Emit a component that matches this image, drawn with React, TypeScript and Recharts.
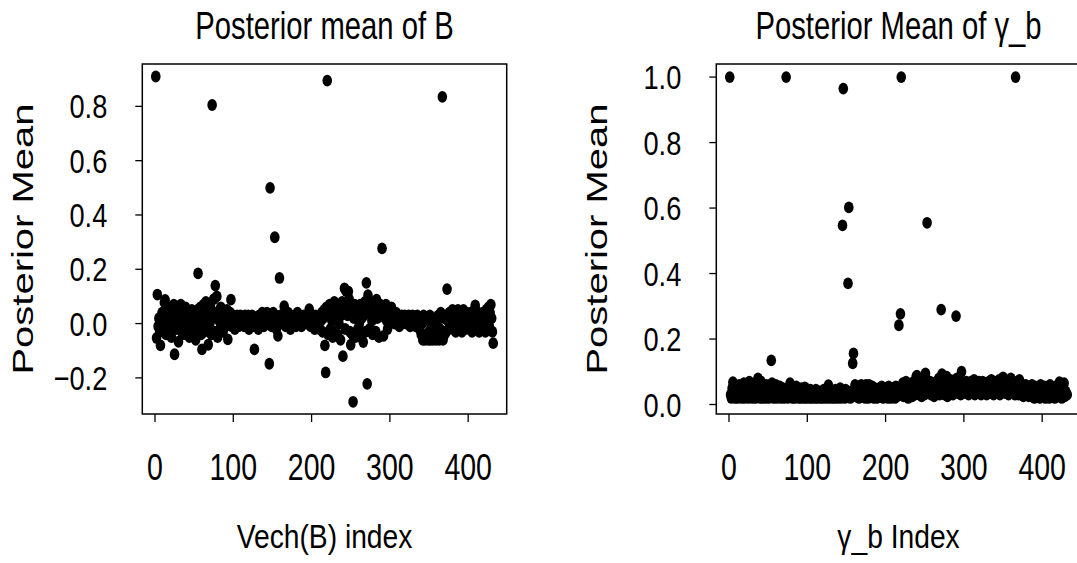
import { ScatterChart, Scatter, XAxis, YAxis, ReferenceArea } from "recharts";

const FONT = '"Liberation Sans", Arial, Helvetica, sans-serif';

const xTicks = [0, 100, 200, 300, 400];
const xDomain: [number, number] = [-16.2, 449.2];
const bTicks = [-0.2, 0, 0.2, 0.4, 0.6, 0.8];
const bDomain: [number, number] = [-0.333, 0.956];
const gammaTicks = [0, 0.2, 0.4, 0.6, 0.8, 1.0];
const gammaDomain: [number, number] = [-0.029, 1.04];

// posterior mean of vech(B), index 1..432 (16 per row)
const vechBValues = [
  0.91, -0.053, 0.107, -0.01, 0.02, -0.03, -0.08, 0.01, 0.04, -0.02, 0.03, 0.078, 0.087, -0.04, 0.05, 0.0,
  0.02, -0.03, 0.06, 0.01, -0.05, 0.03, 0.0, 0.07, -0.113, 0.02, -0.02, 0.05, 0.01, -0.067, 0.04, -0.01,
  0.07, -0.03, 0.02, 0.05, -0.04, 0.0, 0.06, 0.03, -0.02, 0.04, 0.01, -0.05, 0.03, -0.01, 0.05, 0.02,
  -0.03, 0.04, 0.0, -0.06, 0.02, 0.05, 0.185, -0.02, 0.03, 0.06, -0.04, -0.095, 0.01, 0.07, -0.03, 0.02,
  0.08, -0.02, 0.05, -0.078, 0.03, 0.0, 0.06, -0.04, 0.805, 0.02, 0.09, -0.03, 0.14, 0.04, 0.1, -0.05,
  0.03, 0.01, -0.02, 0.06, 0.0, 0.05, -0.03, 0.04, 0.02, -0.01, 0.03, 0.05, -0.058, 0.02, 0.0, 0.04,
  0.088, -0.01, 0.02, 0.03, 0.01, -0.02, 0.02, 0.0, 0.03, 0.01, -0.01, 0.02, 0.03, 0.0, 0.02, 0.01,
  0.02, -0.01, 0.03, 0.01, 0.0, 0.02, 0.03, -0.02, 0.01, 0.02, 0.0, 0.03, 0.01, -0.01, -0.095, 0.02,
  0.01, 0.0, 0.02, -0.02, 0.03, 0.01, 0.02, 0.0, 0.04, 0.01, -0.01, 0.03, 0.02, 0.0, 0.04, 0.01,
  0.02, -0.148, 0.5, 0.03, -0.01, 0.02, 0.04, 0.0, 0.318, 0.03, -0.02, 0.02, -0.045, 0.01, 0.168, 0.03,
  0.02, 0.0, 0.01, 0.03, 0.064, 0.01, -0.01, 0.02, 0.0, 0.04, 0.01, 0.02, -0.02, 0.03, 0.01, 0.0,
  0.02, 0.03, 0.01, -0.01, 0.02, 0.04, 0.0, 0.01, 0.03, 0.02, -0.01, 0.01, 0.02, 0.03, 0.0, 0.01,
  0.02, 0.0, 0.03, 0.01, 0.053, 0.02, -0.01, 0.01, 0.0, 0.02, 0.01, -0.02, 0.03, 0.0, 0.01, 0.02,
  0.0, -0.02, 0.03, 0.01, 0.04, -0.03, 0.02, 0.05, -0.08, -0.18, 0.06, 0.895, -0.04, 0.03, 0.07, -0.02,
  0.05, 0.01, -0.05, 0.04, 0.08, -0.03, 0.06, 0.02, -0.04, 0.07, 0.0, 0.05, -0.06, 0.03, 0.08, -0.12,
  0.04, 0.13, -0.02, 0.12, 0.06, 0.03, 0.118, 0.09, -0.03, -0.078, 0.05, -0.04, -0.288, 0.02, 0.07, -0.05,
  0.03, 0.06, -0.02, 0.04, 0.0, 0.07, -0.05, 0.02, 0.05, -0.068, 0.03, 0.08, -0.03, 0.15, -0.222, 0.105,
  0.06, -0.02, 0.04, 0.08, 0.01, -0.04, 0.07, 0.03, 0.05, -0.03, 0.088, 0.02, 0.06, -0.05, 0.04, 0.07,
  0.03, 0.277, 0.06, -0.045, 0.05, 0.02, 0.07, 0.01, -0.02, 0.05, 0.04, 0.0, 0.03, 0.06, 0.02, 0.01,
  0.03, 0.0, 0.02, 0.04, 0.01, 0.02, 0.03, -0.01, 0.02, 0.01, 0.03, 0.0, 0.02, 0.01, 0.03, 0.02,
  0.0, 0.02, 0.01, 0.03, 0.02, -0.01, 0.02, 0.0, 0.03, 0.01, 0.02, 0.0, -0.01, 0.02, 0.03, 0.0,
  0.01, -0.02, 0.02, -0.04, 0.0, -0.06, 0.03, -0.05, -0.06, 0.01, -0.04, 0.02, -0.06, -0.03, 0.03, -0.06,
  -0.02, 0.01, -0.06, -0.04, 0.02, -0.05, -0.06, 0.0, -0.03, 0.03, -0.06, -0.02, 0.04, -0.05, 0.835, -0.06,
  0.02, -0.04, 0.03, -0.03, 0.127, 0.01, -0.02, 0.04, -0.01, 0.03, 0.0, 0.05, -0.02, 0.02, 0.04, -0.03,
  0.03, 0.0, 0.05, -0.02, 0.02, 0.04, 0.01, -0.03, 0.03, 0.05, 0.0, 0.02, -0.02, 0.04, 0.01, 0.03,
  -0.01, 0.02, 0.04, 0.0, -0.03, 0.03, 0.01, 0.05, 0.067, -0.02, 0.02, 0.0, 0.04, -0.03, 0.01, 0.03,
  0.02, -0.02, 0.04, 0.0, 0.03, -0.03, 0.05, 0.01, 0.02, 0.06, -0.01, 0.04, 0.07, 0.02, -0.03, -0.072,
];

// posterior mean of gamma_b, index 1..432 (16 per row)
const gammaBValues = [
  1.0, 0.03, 0.02, 0.05, 0.068, 0.025, 0.04, 0.02, 0.055, 0.03, 0.02, 0.045, 0.06, 0.025, 0.035, 0.02,
  0.05, 0.03, 0.065, 0.02, 0.04, 0.025, 0.06, 0.03, 0.02, 0.07, 0.035, 0.025, 0.05, 0.02, 0.06, 0.03,
  0.04, 0.02, 0.065, 0.03, 0.08, 0.025, 0.05, 0.02, 0.07, 0.035, 0.02, 0.055, 0.03, 0.045, 0.02, 0.06,
  0.03, 0.05, 0.02, 0.04, 0.025, 0.135, 0.065, 0.03, 0.02, 0.05, 0.035, 0.06, 0.02, 0.045, 0.03, 0.025,
  0.055, 0.02, 0.04, 0.03, 0.05, 0.02, 0.035, 0.025, 1.0, 0.045, 0.02, 0.03, 0.05, 0.065, 0.025, 0.04,
  0.02, 0.035, 0.045, 0.02, 0.03, 0.055, 0.025, 0.04, 0.02, 0.035, 0.03, 0.02, 0.05, 0.025, 0.04, 0.02,
  0.052, 0.03, 0.02, 0.04, 0.025, 0.035, 0.02, 0.045, 0.03, 0.02, 0.04, 0.025, 0.03, 0.02, 0.045, 0.035,
  0.02, 0.03, 0.04, 0.025, 0.02, 0.035, 0.03, 0.02, 0.045, 0.025, 0.03, 0.02, 0.04, 0.035, 0.059, 0.02,
  0.03, 0.025, 0.04, 0.02, 0.035, 0.03, 0.02, 0.045, 0.025, 0.035, 0.02, 0.04, 0.03, 0.05, 0.02, 0.035,
  0.547, 0.965, 0.03, 0.02, 0.045, 0.025, 0.04, 0.37, 0.602, 0.03, 0.02, 0.04, 0.025, 0.126, 0.156, 0.035,
  0.06, 0.025, 0.04, 0.03, 0.055, 0.02, 0.045, 0.035, 0.06, 0.025, 0.04, 0.03, 0.05, 0.02, 0.06, 0.035,
  0.045, 0.02, 0.06, 0.03, 0.04, 0.025, 0.055, 0.035, 0.02, 0.05, 0.03, 0.045, 0.02, 0.04, 0.03, 0.05,
  0.025, 0.04, 0.055, 0.03, 0.02, 0.045, 0.035, 0.05, 0.025, 0.04, 0.02, 0.055, 0.03, 0.045, 0.02, 0.035,
  0.05, 0.03, 0.04, 0.02, 0.055, 0.035, 0.025, 0.045, 0.242, 0.03, 0.277, 1.0, 0.04, 0.065, 0.025, 0.06,
  0.035, 0.07, 0.03, 0.05, 0.02, 0.06, 0.045, 0.03, 0.065, 0.025, 0.05, 0.04, 0.07, 0.03, 0.085, 0.088,
  0.04, 0.06, 0.03, 0.075, 0.05, 0.025, 0.065, 0.04, 0.08, 0.03, 0.095, 0.05, 0.555, 0.035, 0.06, 0.045,
  0.07, 0.03, 0.055, 0.04, 0.065, 0.025, 0.06, 0.045, 0.07, 0.035, 0.05, 0.08, 0.03, 0.06, 0.29, 0.093,
  0.045, 0.06, 0.03, 0.07, 0.04, 0.085, 0.025, 0.055, 0.065, 0.035, 0.075, 0.045, 0.06, 0.03, 0.07, 0.05,
  0.04, 0.27, 0.08, 0.035, 0.06, 0.045, 0.07, 0.03, 0.1, 0.05, 0.065, 0.035, 0.06, 0.045, 0.07, 0.04,
  0.055, 0.03, 0.065, 0.045, 0.07, 0.035, 0.06, 0.04, 0.075, 0.03, 0.055, 0.045, 0.065, 0.035, 0.07, 0.04,
  0.06, 0.03, 0.05, 0.07, 0.035, 0.055, 0.04, 0.065, 0.03, 0.06, 0.045, 0.07, 0.035, 0.05, 0.075, 0.04,
  0.06, 0.03, 0.07, 0.045, 0.055, 0.035, 0.065, 0.04, 0.075, 0.03, 0.06, 0.05, 0.07, 0.083, 0.04, 0.06,
  0.035, 0.07, 0.045, 0.055, 0.03, 0.065, 0.04, 0.08, 0.035, 0.06, 0.045, 0.07, 0.03, 1.0, 0.05, 0.04,
  0.065, 0.03, 0.075, 0.045, 0.055, 0.035, 0.06, 0.025, 0.05, 0.04, 0.06, 0.03, 0.045, 0.055, 0.025, 0.04,
  0.05, 0.025, 0.06, 0.035, 0.045, 0.02, 0.055, 0.03, 0.04, 0.025, 0.05, 0.035, 0.02, 0.06, 0.03, 0.045,
  0.025, 0.04, 0.055, 0.02, 0.035, 0.05, 0.03, 0.045, 0.02, 0.06, 0.035, 0.025, 0.05, 0.03, 0.04, 0.02,
  0.055, 0.03, 0.045, 0.025, 0.06, 0.068, 0.035, 0.05, 0.02, 0.045, 0.03, 0.065, 0.025, 0.04, 0.03, 0.03,
];

function Dot(props: any) {
  const { cx, cy } = props;
  if (cx == null || cy == null) return null;
  return <ellipse cx={cx} cy={cy} rx={4.8} ry={5.9} fill="#000" />;
}

function XTick({ x, y, payload }: any) {
  return (
    <text
      transform={`translate(${x},${y + 58}) scale(0.77,1)`}
      textAnchor="middle"
      fontSize={37}
      fontFamily={FONT}
      fill="#000"
    >
      {payload.value}
    </text>
  );
}

function YTick({ x, y, payload }: any) {
  const v = payload.value as number;
  const label = v < 0 ? `\u2212${Math.abs(v).toFixed(1)}` : v.toFixed(1);
  return (
    <text
      transform={`translate(${x - 28},${y + 12}) scale(0.8,1)`}
      textAnchor="end"
      fontSize={34}
      fontFamily={FONT}
      fill="#000"
    >
      {label}
    </text>
  );
}

type PanelProps = {
  left: number;
  title: string;
  xLabel: string;
  values: number[];
  yDomain: [number, number];
  yTicks: number[];
};

function Panel({ left, title, xLabel, values, yDomain, yTicks }: PanelProps) {
  const data = values.map((value, i) => ({ index: i + 1, value }));
  const cx = 324.5;

  return (
    <div style={{ position: "absolute", left, top: 0, width: 540, height: 563 }}>
      <ScatterChart
        width={540}
        height={563}
        margin={{ top: 64, right: 33.3, bottom: 89, left: 32.3 }}
      >
        <XAxis
          type="number"
          dataKey="index"
          domain={xDomain}
          ticks={xTicks}
          interval={0}
          allowDataOverflow
          axisLine={false}
          tickLine={{ stroke: "#000", strokeWidth: 1.3 }}
          tickSize={8}
          tickMargin={0}
          tick={<XTick />}
          height={60}
        />
        <YAxis
          type="number"
          dataKey="value"
          domain={yDomain}
          ticks={yTicks}
          interval={0}
          allowDataOverflow
          axisLine={false}
          tickLine={{ stroke: "#000", strokeWidth: 1.3 }}
          tickSize={7}
          tickMargin={0}
          tick={<YTick />}
          width={110}
        />
        <ReferenceArea
          x1={xDomain[0]}
          x2={xDomain[1]}
          y1={yDomain[0]}
          y2={yDomain[1]}
          fill="none"
          fillOpacity={0}
          stroke="#000"
          strokeWidth={1.5}
          ifOverflow="visible"
        />
        <Scatter data={data} shape={<Dot />} isAnimationActive={false} />
      </ScatterChart>
      <svg
        width={540}
        height={563}
        style={{ position: "absolute", left: 0, top: 0, pointerEvents: "none" }}
      >
        <text
          transform={`translate(${cx},39.3) scale(0.76,1)`}
          textAnchor="middle"
          fontSize={38.5}
          fontFamily={FONT}
          fill="#000"
        >
          {title}
        </text>
        <text
          transform={`translate(${cx},548.3) scale(0.83,1)`}
          textAnchor="middle"
          fontSize={34}
          fontFamily={FONT}
          fill="#000"
        >
          {xLabel}
        </text>
        <text
          transform="translate(33.3,239) scale(0.72,1) rotate(-90)"
          textAnchor="middle"
          fontSize={40}
          fontFamily={FONT}
          fill="#000"
        >
          Posterior Mean
        </text>
      </svg>
    </div>
  );
}

export default function App() {
  return (
    <div
      style={{
        position: "fixed",
        left: 0,
        top: 0,
        width: 1077,
        height: 563,
        overflow: "hidden",
        background: "#fff",
      }}
    >
      <Panel
        left={0}
        title="Posterior mean of B"
        xLabel="Vech(B) index"
        values={vechBValues}
        yDomain={bDomain}
        yTicks={bTicks}
      />
      <Panel
        left={574.4}
        title="Posterior Mean of γ_b"
        xLabel="γ_b Index"
        values={gammaBValues}
        yDomain={gammaDomain}
        yTicks={gammaTicks}
      />
    </div>
  );
}
